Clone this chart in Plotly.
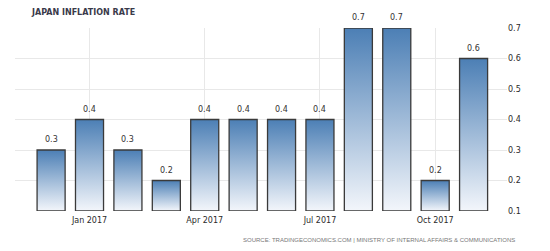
import plotly.graph_objects as go

months = ["Dec 2016", "Jan 2017", "Feb 2017", "Mar 2017", "Apr 2017", "May 2017",
          "Jun 2017", "Jul 2017", "Aug 2017", "Sep 2017", "Oct 2017", "Nov 2017"]
values = [0.3, 0.4, 0.3, 0.2, 0.4, 0.4, 0.4, 0.4, 0.7, 0.7, 0.2, 0.6]
tick_labels = ["Jan 2017", "Apr 2017", "Jul 2017", "Oct 2017"]
tick_idx = [months.index(t) for t in tick_labels]
base = 0.1
half_w = 0.365

fig = go.Figure()
for i, v in enumerate(values):
    fig.add_trace(go.Scatter(
        x=[i - half_w, i + half_w, i + half_w, i - half_w, i - half_w],
        y=[base, base, v, v, base],
        mode="lines", fill="toself",
        line=dict(color="#3a3a3a", width=1.3),
        fillgradient=dict(type="vertical",
                          colorscale=[[0, "#f3f6fb"], [1, "#4c7fb5"]]),
        hoverinfo="skip", showlegend=False,
    ))

value_annotations = [
    dict(x=i, y=v, xref="x", yref="y", text=f"{v:.1f}", showarrow=False,
         xanchor="center", yanchor="bottom", yshift=4,
         font=dict(family="DejaVu Sans", size=8, color="#333333"))
    for i, v in enumerate(values)
]

fig.update_layout(
    width=550, height=251,
    margin=dict(l=15, r=43, t=28, b=40),
    paper_bgcolor="white", plot_bgcolor="white",
    xaxis=dict(range=[-0.94, 11.87], tickmode="array", tickvals=tick_idx,
               ticktext=tick_labels, showgrid=True, gridcolor="#e8e8e8",
               gridwidth=1, zeroline=False, showline=False, ticks="",
               ticklabelstandoff=3,
               tickfont=dict(family="DejaVu Sans", size=8, color="#2a2a2a")),
    yaxis=dict(range=[0.1, 0.7], side="right", dtick=0.1, tickformat=".1f",
               showgrid=True, gridcolor="#e8e8e8", gridwidth=1,
               zeroline=False, showline=False, ticks="",
               tickfont=dict(family="DejaVu Sans", size=8, color="#2a2a2a")),
    annotations=value_annotations + [
        dict(text="<b>JAPAN INFLATION RATE</b>", xref="paper", yref="paper",
             x=32 / 550 - 15 / 492, y=1, xanchor="left", yanchor="bottom",
             showarrow=False, yshift=9,
             font=dict(family="DejaVu Sans", size=8, color="#3a3a4a")),
        dict(text="SOURCE: TRADINGECONOMICS.COM | MINISTRY OF INTERNAL AFFAIRS & COMMUNICATIONS",
             xref="paper", yref="paper", x=1, y=0, xanchor="right", yanchor="top",
             showarrow=False, yshift=-24, xshift=10,
             font=dict(family="Liberation Sans", size=6, color="#777777")),
    ],
)

fig.write_html("out.html")
